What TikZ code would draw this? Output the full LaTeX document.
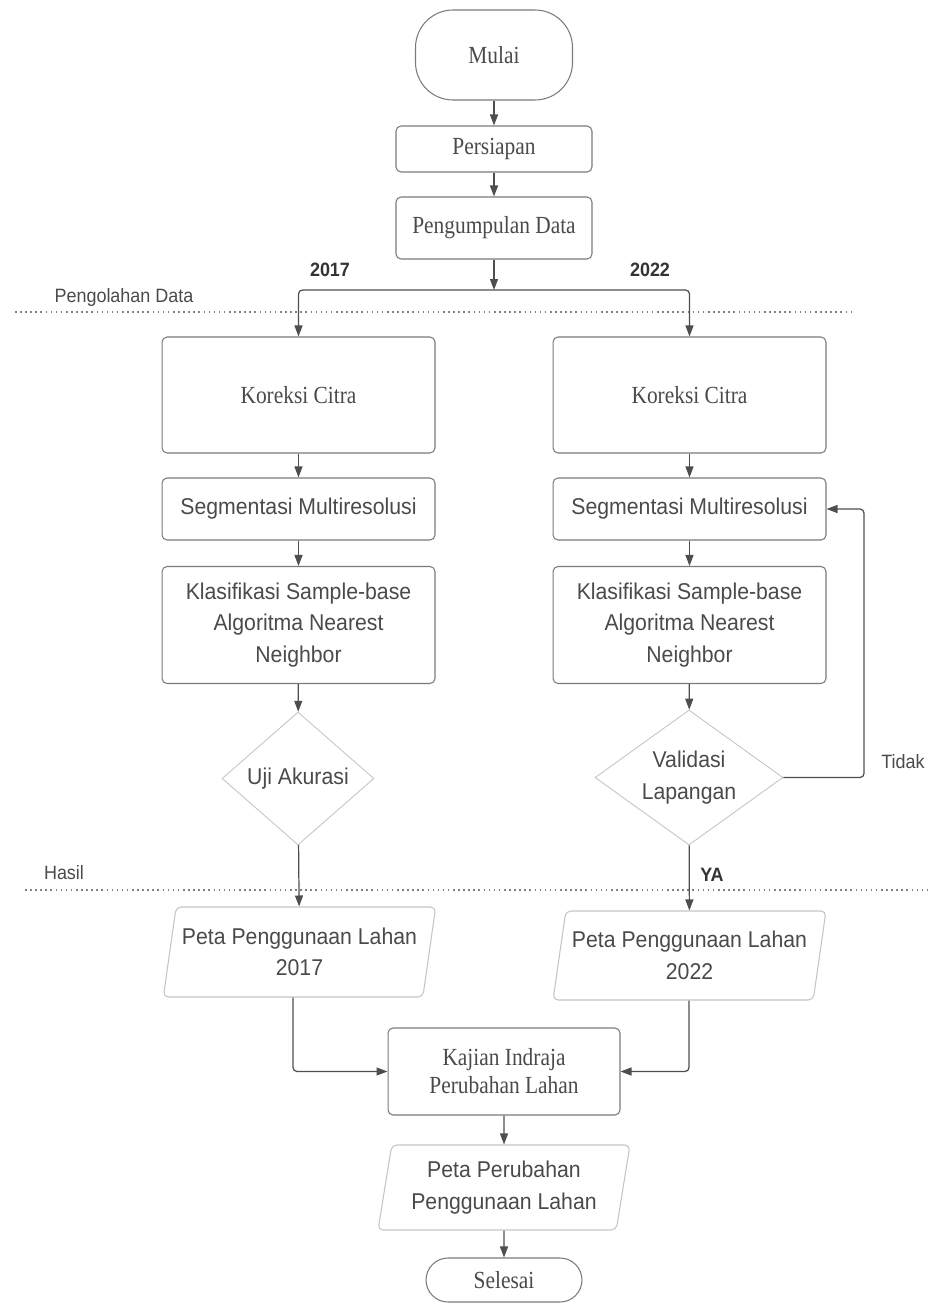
\documentclass[tikz,border=0pt]{standalone}
\usepackage{fontspec}
\usepackage{tikz}
\usetikzlibrary{arrows.meta,shapes.geometric,positioning,calc}
\newfontfamily\serifnarrow{Liberation Serif}[FakeStretch=0.87]
\newfontfamily\sansnarrow{Liberation Sans}[FakeStretch=0.93]
\definecolor{linegray}{HTML}{4E4E4E}
\definecolor{boxgray}{HTML}{7A7A7A}
\definecolor{lightgray}{HTML}{C4C4C4}
\definecolor{textgray}{HTML}{4A4A4A}

\begin{document}
\begin{tikzpicture}[x=0.02cm, y=-0.02cm,
        every node/.style={text=textgray},
        serif/.style={font=\serifnarrow\fontsize{14}{16}\selectfont, align=center},
        sans/.style={font=\sansnarrow\fontsize{13}{18}\selectfont, align=center},
        terminal/.style={serif, draw=boxgray, line width=0.6pt, rounded corners=0.75cm},
        process/.style={draw=boxgray, line width=0.6pt, rounded corners=0.1cm},
        decision/.style={sans, diamond, draw=lightgray, line width=0.5pt, shape aspect=1.4, inner sep=0pt},
        data/.style={sans, trapezium, trapezium left angle=78, trapezium right angle=102,
                trapezium stretches body, draw=lightgray, line width=0.6pt, rounded corners=0.1cm},
        lbl/.style={font=\sansnarrow\bfseries\fontsize{11}{13}\selectfont, text=black!80},
        note/.style={font=\sansnarrow\fontsize{11}{13}\selectfont, text=textgray},
        sepline/.style={gray, dotted, line width=0.9pt},
        arr/.style={draw=linegray, line width=0.7pt, rounded corners=0.08cm,
                -{Triangle[length=0.22cm,width=0.16cm]}}]
        \useasboundingbox (0,0) rectangle (927,1304);

        \node[terminal, minimum width=3.14cm, minimum height=1.8cm] (start) at (494,55) {Mulai};
        \node[process, serif, minimum width=3.92cm, minimum height=0.92cm] (prep) at (494,149) {Persiapan};
        \node[process, serif, minimum width=3.92cm, minimum height=1.24cm] (coll) at (494,228) {Pengumpulan Data};
        \coordinate (split) at (494,290);

        \node[process, serif, minimum width=5.46cm, minimum height=2.32cm] (kc1) at (298.5,395) {Koreksi Citra};
        \node[process, serif, minimum width=5.46cm, minimum height=2.32cm] (kc2) at (689.5,395) {Koreksi Citra};
        \node[process, sans, minimum width=5.46cm, minimum height=1.24cm] (seg1) at (298.5,509) {Segmentasi Multiresolusi};
        \node[process, sans, minimum width=5.46cm, minimum height=1.24cm] (seg2) at (689.5,509) {Segmentasi Multiresolusi};
        \node[process, sans, minimum width=5.46cm, minimum height=2.34cm] (kla1) at (298.5,625)
                {Klasifikasi Sample-base\\Algoritma Nearest\\Neighbor};
        \node[process, sans, minimum width=5.46cm, minimum height=2.34cm] (kla2) at (689.5,625)
                {Klasifikasi Sample-base\\Algoritma Nearest\\Neighbor};
        \node[decision, minimum width=3.04cm, minimum height=2.66cm] (uji) at (298,778.5) {Uji Akurasi};
        \node[decision, minimum width=3.76cm, minimum height=2.7cm] (val) at (689,777.5) {Validasi\\Lapangan};
        \coordinate (loop) at (864,509);

        \node[data, minimum width=5.38cm, minimum height=1.8cm] (peta1) at (299.5,952) {Peta Penggunaan Lahan\\2017};
        \node[data, minimum width=5.46cm, minimum height=1.78cm] (peta2) at (689.5,955.5) {Peta Penggunaan Lahan\\2022};
        \node[process, serif, minimum width=4.64cm, minimum height=1.74cm] (kaj) at (504,1071.5)
                {Kajian Indraja\\Perubahan Lahan};
        \node[data, minimum width=5.04cm, minimum height=1.7cm] (petab) at (504,1187.5)
                {Peta Perubahan\\Penggunaan Lahan};
        \node[terminal, rounded corners=0.44cm, minimum width=3.12cm, minimum height=0.88cm] (end) at (504,1280) {Selesai};

        \node[lbl] (y1) at (330,270) {2017};
        \node[lbl] (y2) at (650,270) {2022};
        \node[note] (olah) at (124,298) {Pengolahan Data};
        \node[note] (hasil) at (64,873) {Hasil};
        \node[note] (tidak) at (903,762) {Tidak};
        \node[lbl] (ya) at (712,875) {YA};

        \draw[sepline] (15,312) -- (852,312);
        \draw[sepline] (25,890) -- (927,890);

        \draw[arr] (start) -- (prep);
        \draw[arr] (prep) -- (coll);
        \draw[arr] (coll) -- (split);
        \draw[arr] (split) -| (kc1);
        \draw[arr] (split) -| (kc2);
        \draw[arr] (kc1) -- (seg1);
        \draw[arr] (kc2) -- (seg2);
        \draw[arr] (seg1) -- (kla1);
        \draw[arr] (seg2) -- (kla2);
        \draw[arr] (kla1) -- (uji);
        \draw[arr] (kla2) -- (val);
        \draw[arr] (val.east) -| (loop) -- (seg2.east);
        \draw[arr] (uji) -- (peta1);
        \draw[arr] (val) -- (peta2);
        \draw[arr] ($(peta1.bottom left corner)!.5!(peta1.bottom right corner)$) |- (kaj.west);
        \draw[arr] (peta2.south -| val.south) |- (kaj.east);
        \draw[arr] (kaj) -- (petab);
        \draw[arr] (petab) -- (end);
\end{tikzpicture}
\end{document}
